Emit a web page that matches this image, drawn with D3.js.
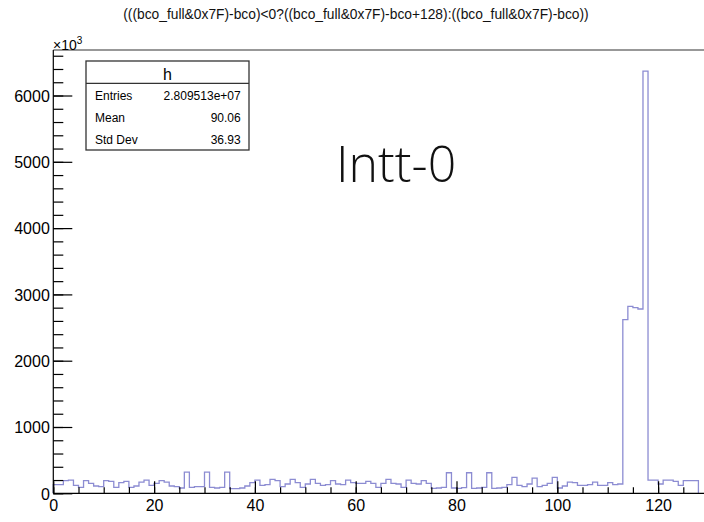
<!DOCTYPE html>
<html>
<head>
<meta charset="utf-8">
<script src="https://cdn.jsdelivr.net/npm/d3@7"></script>
<style>
    body { margin: 0; background: #fff; }
    text { font-family: "Liberation Sans", Arial, Helvetica, sans-serif; }
</style>
</head>
<body>
<div id="hist-wrapper"></div>
<script>
"use strict";
let dimensions = {
    hist: {width: 704, height: 522}
}

// bin contents (1 unit wide bins starting at 0)
let binCounts = [
    130, 130, 190, 200, 120, 90, 190, 150, 110, 100,
    190, 180, 90, 160, 180, 90, 110, 170, 200, 120,
    150, 190, 170, 110, 100, 80, 320, 90, 100, 100,
    320, 90, 80, 90, 320, 70, 70, 80, 110, 160,
    200, 120, 130, 210, 190, 100, 140, 210, 160, 90,
    140, 210, 150, 120, 130, 190, 140, 130, 200, 160,
    150, 150, 180, 150, 90, 150, 210, 150, 140, 90,
    200, 150, 140, 190, 150, 75, 80, 90, 310, 80,
    75, 85, 310, 75, 80, 90, 310, 75, 80, 90,
    130, 240, 120, 100, 140, 230, 100, 120, 150, 240,
    80, 110, 170, 160, 120, 120, 130, 170, 120, 120,
    160, 130, 140, 2620, 2820, 2800, 2780, 6368, 200, 200,
    140, 200, 200, 180, 120, 190, 190, 190
];

let histTitle = "(((bco_full&0x7F)-bco)<0?((bco_full&0x7F)-bco+128):((bco_full&0x7F)-bco))";
let statLabels = ["Entries", "Mean", "Std Dev"];
let statValues = ["2.809513e+07", "90.06", "36.93"];
let xMajorTicks = [0, 20, 40, 60, 80, 100, 120];
let yMajorTicks = [0, 1000, 2000, 3000, 4000, 5000, 6000];

var margin = { top: 50, right: 0, bottom: 28.7, left: 53.3 },
    width = dimensions.hist.width - margin.left - margin.right,
    height = dimensions.hist.height - margin.top - margin.bottom;

let svg = d3.select("#hist-wrapper").append("svg")
    .attr("width", dimensions.hist.width)
    .attr("height", dimensions.hist.height);

let hist = svg.append("g")
    .attr("transform", "translate(" + margin.left + "," + margin.top + ")");

// ROOT style: x range a bit wider than the bins (frame runs off the right side)
var x = d3.scaleLinear()
    .domain([0, 130])
    .range([0, 130 * 5.04]);

var y = d3.scaleLinear()
    .domain([0, d3.max(binCounts) * 1.05])
    .range([height, 0]);

// Title
svg.append("text")
    .attr("x", 356)
    .attr("y", 19)
    .style("text-anchor", "middle")
    .style("font-size", "13.8px")
    .style("fill", "#111")
    .text(histTitle);

// Frame top line
hist.append("line")
    .attr("x1", 0).attr("x2", x.range()[1])
    .attr("y1", 0).attr("y2", 0)
    .style("stroke", "#333").style("stroke-width", 1.2);

// Histogram outline as steps
let steps = [[0, 0]];
binCounts.forEach((v, i) => {
    steps.push([i, v]);
    steps.push([i + 1, v]);
});
steps.push([binCounts.length, 0]);

hist.append("path")
    .datum(steps)
    .attr("d", d3.line().x(d => x(d[0])).y(d => y(d[1])))
    .style("fill", "none")
    .style("stroke", "#8c8cd2")
    .style("stroke-width", 1.3);

// X axis, ticks point up into the frame
let xAxis = hist.append("g")
    .attr("transform", "translate(0," + height + ")");
xAxis.append("g")
    .call(d3.axisBottom(x).tickValues(d3.range(0, 131, 5)).tickSize(-6).tickFormat(""))
    .call(g => g.select(".domain").remove());
xAxis.append("g")
    .call(d3.axisBottom(x).tickValues(xMajorTicks).tickSize(-12).tickPadding(20))
    .call(g => g.select(".domain").remove());
xAxis.append("line")
    .attr("x1", 0).attr("x2", x.range()[1])
    .style("stroke", "#000").style("stroke-width", 1.2);
xAxis.selectAll("line").style("stroke", "#000").style("stroke-width", 1.2);
xAxis.selectAll(".tick text")
    .attr("y", 17.5)
    .attr("dy", 0)
    .style("font-size", "16px")
    .style("fill", "#000");

// Y axis, ticks point right into the frame
let yAxis = hist.append("g");
yAxis.append("g")
    .call(d3.axisLeft(y).tickValues(d3.range(0, 6601, 200)).tickSize(-10).tickFormat(""))
    .call(g => g.select(".domain").remove());
yAxis.append("g")
    .call(d3.axisLeft(y).tickValues(yMajorTicks).tickSize(-19).tickPadding(4).tickFormat(d3.format("d")))
    .call(g => g.select(".domain").remove());
yAxis.append("line")
    .attr("y1", 0).attr("y2", height)
    .style("stroke", "#000").style("stroke-width", 1.2);
yAxis.selectAll("line").style("stroke", "#000").style("stroke-width", 1.2);
yAxis.selectAll(".tick text")
    .attr("x", -3.5)
    .attr("dy", "0.36em")
    .style("font-size", "16px")
    .style("fill", "#000");

// exponent label
let expo = svg.append("text")
    .attr("x", 53)
    .attr("y", 50)
    .style("font-size", "14px")
    .style("fill", "#000");
expo.append("tspan").text("\u00d710");
expo.append("tspan")
    .attr("dy", -6)
    .style("font-size", "10px")
    .text("3");

// Stats box
let stats = svg.append("g").attr("transform", "translate(86,61)");
stats.append("rect")
    .attr("width", 163).attr("height", 89)
    .style("fill", "#fff")
    .style("stroke", "#333").style("stroke-width", 1.3);
stats.append("line")
    .attr("x1", 0).attr("x2", 163)
    .attr("y1", 22.3).attr("y2", 22.3)
    .style("stroke", "#333").style("stroke-width", 1.3);
stats.append("text")
    .attr("x", 81.5).attr("y", 19)
    .style("text-anchor", "middle")
    .style("font-size", "16px")
    .text("h");
statLabels.forEach((label, i) => {
    stats.append("text")
        .attr("x", 9).attr("y", 38.5 + i * 22)
        .style("font-size", "12px")
        .text(label);
    stats.append("text")
        .attr("x", 154.7).attr("y", 38.5 + i * 22)
        .style("text-anchor", "end")
        .style("font-size", "12px")
        .text(statValues[i]);
});

// Detector label
svg.append("text")
    .attr("x", 336)
    .attr("y", 181.7)
    .style("font-family", "'Open Sans', 'Noto Sans', sans-serif")
    .style("font-weight", 300)
    .style("font-size", "50px")
    .style("fill", "#111")
    .text("Intt-0");
</script>
</body>
</html>
